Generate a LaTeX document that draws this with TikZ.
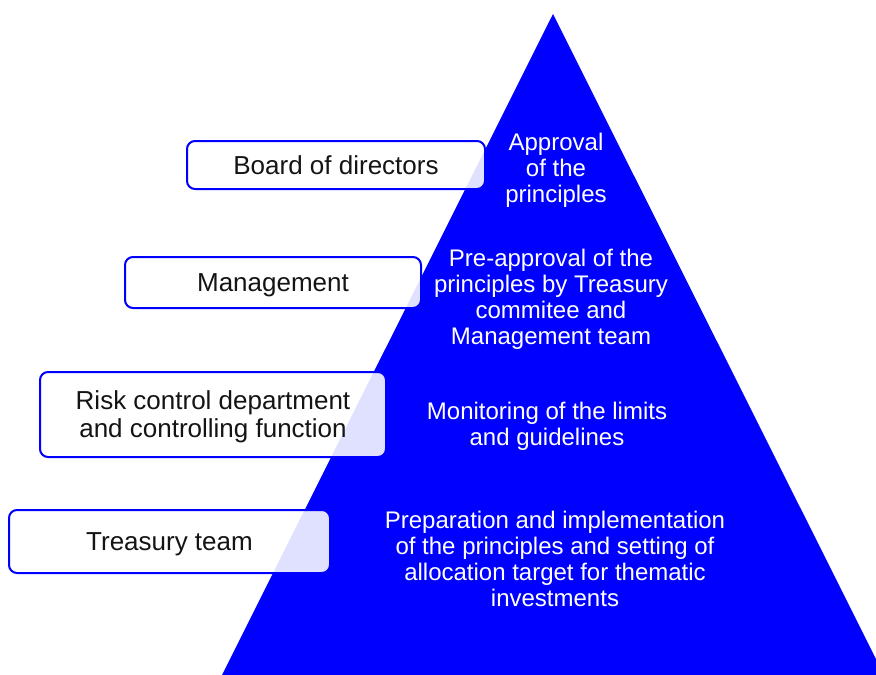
\documentclass[tikz,border=0pt]{standalone}
\usepackage{fontspec}
\setmainfont{Liberation Sans}

\tikzset{every picture/.style={line width=0.75pt}}
\definecolor{pyrblue}{RGB}{0,0,255}
\definecolor{boxtext}{RGB}{20,20,20}
\tikzset{
  rolebox/.style={draw=pyrblue, line width=1.5pt, rounded corners=6pt, fill=white, fill opacity=0.88, text opacity=1, text=boxtext, align=center, font=\fontsize{19.5}{21}\selectfont, inner sep=0pt, text depth=0pt},
  tasktext/.style={text=white, align=center, font=\fontsize{18}{19.5}\selectfont, inner sep=0pt}
}

\begin{document}
\begin{tikzpicture}[x=0.75pt,y=0.75pt,yscale=-1,xscale=1]
\useasboundingbox (0,0) rectangle (876,675);

%Shape: Triangle [id:pyramid]
\fill [pyrblue] (553,14) -- (222,675) -- (884,675) -- cycle ;

% Role boxes
\node [rolebox, minimum width=223.5pt, minimum height=36pt] (board) at (336,165) {Board of directors};
\node [rolebox, minimum width=222pt, minimum height=38.25pt] (mgmt) at (273,282.5) {Management};
\node [rolebox, minimum width=259.5pt, minimum height=63.75pt] (risk) at (213,414.5) {Risk control department\\and controlling function};
\node [rolebox, minimum width=240.75pt, minimum height=47.25pt] (treasury) at (169.5,541.5) {Treasury team};

% Text Node
\node [tasktext] (approval) at (556,170) {Approval\\of the\\principles};
% Text Node
\node [tasktext] (preapproval) at (551,299) {Pre-approval of the\\principles by Treasury\\commitee and\\Management team};
% Text Node
\node [tasktext] (monitoring) at (547,426) {Monitoring of the limits\\and guidelines};
% Text Node
\node [tasktext] (preparation) at (555,559) {Preparation and implementation\\of the principles and setting of\\allocation target for thematic\\investments};
\end{tikzpicture}
\end{document}
